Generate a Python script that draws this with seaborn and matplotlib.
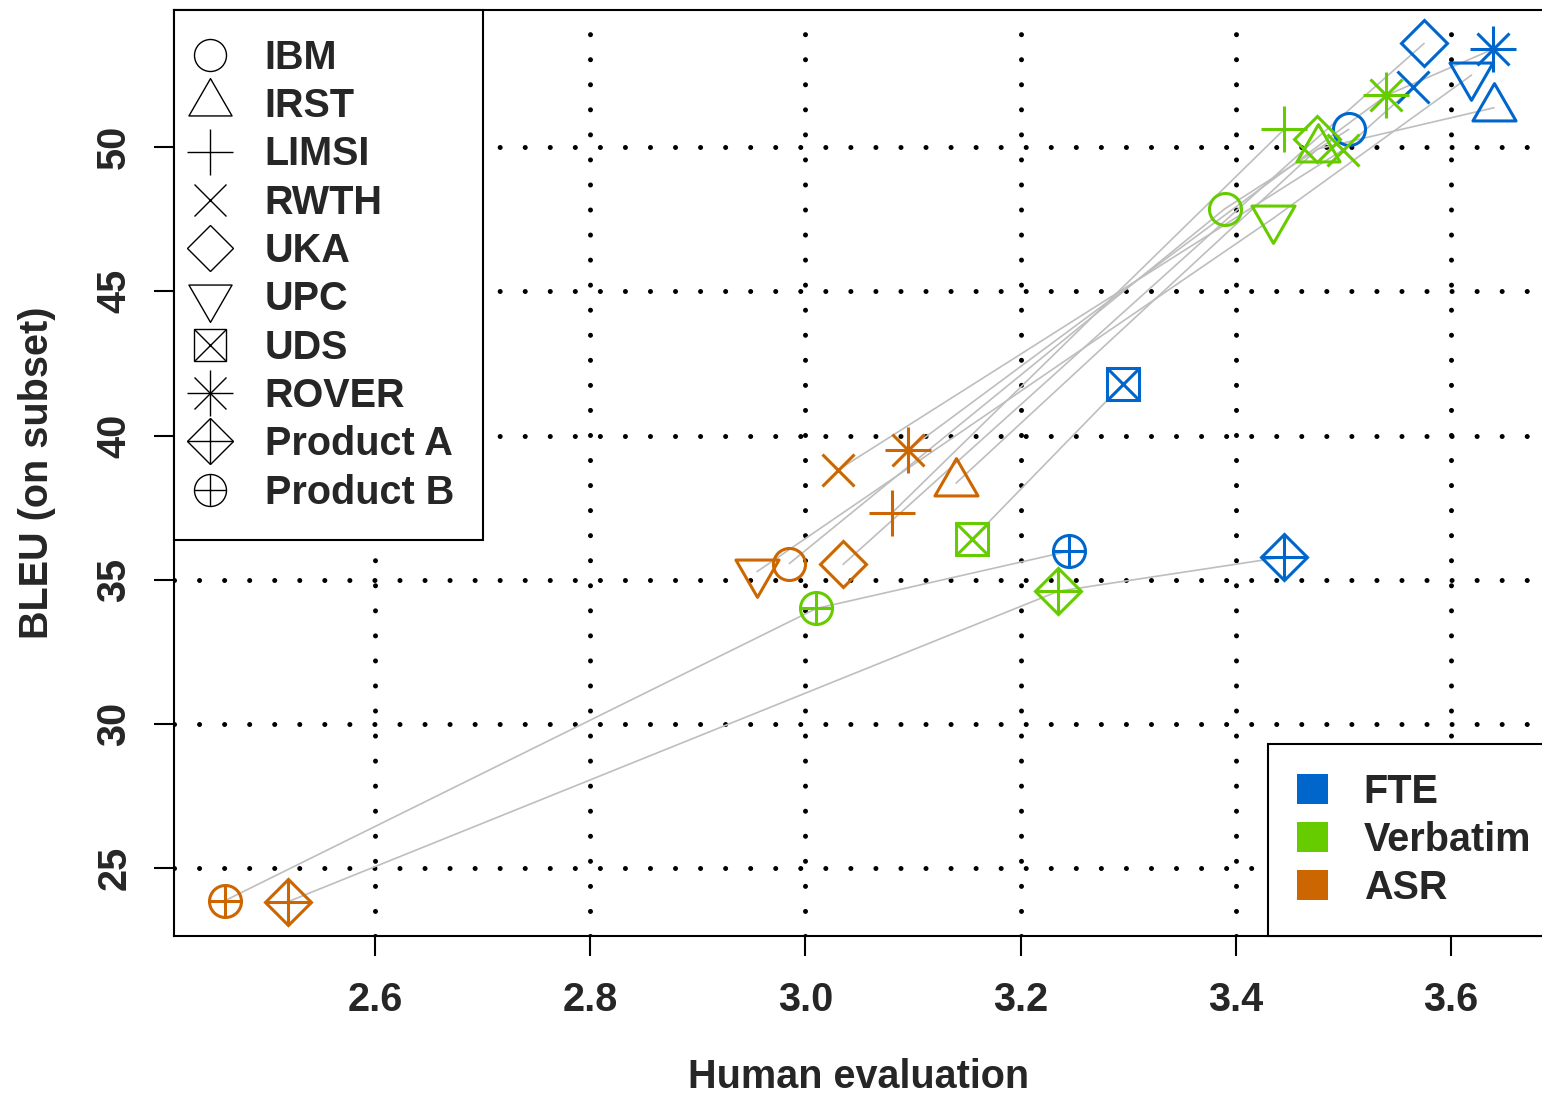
import numpy as np
import pandas as pd
import seaborn as sns
import matplotlib
matplotlib.use("Agg")
import matplotlib.pyplot as plt
from matplotlib.lines import Line2D
from matplotlib.patches import Patch
from matplotlib.path import Path
from matplotlib.legend_handler import HandlerTuple

# values (nan = not shown)
systems = ["IBM", "IRST", "LIMSI", "RWTH", "UKA", "UPC", "UDS", "ROVER", "Product A", "Product B"]
conditions = ["FTE", "Verbatim", "ASR"]

fte_human = [3.505, 3.640, np.nan, 3.565, 3.575, 3.619, 3.295, 3.639, 3.445, 3.245]
fte_bleu = [50.62, 51.37, np.nan, 52.09, 53.60, 52.50, 41.78, 53.40, 35.79, 35.99]
verb_human = [3.390, 3.476, 3.445, 3.500, 3.475, 3.435, 3.155, 3.540, 3.235, 3.010]
verb_bleu = [47.87, 49.94, 50.62, 49.92, 50.30, 47.54, 36.41, 51.80, 34.60, 34.00]
asr_human = [2.985, 3.140, 3.080, 3.030, 3.035, 2.955, np.nan, 3.095, 2.519, 2.460]
asr_bleu = [35.56, 38.35, 37.30, 38.80, 35.53, 35.28, np.nan, 39.49, 23.83, 23.86]

colors = {"FTE": "#0066CC", "Verbatim": "#66CC00", "ASR": "#CC6600"}

x_ticks = [2.6, 2.8, 3.0, 3.2, 3.4, 3.6]
y_ticks = [25, 30, 35, 40, 45, 50]

df = pd.DataFrame({
    "system": systems * 3,
    "condition": ["FTE"] * 10 + ["Verbatim"] * 10 + ["ASR"] * 10,
    "human": fte_human + verb_human + asr_human,
    "bleu": fte_bleu + verb_bleu + asr_bleu,
})

# R style markers, R = marker radius in points
R = 16 * 0.72
tri_up = Path([(0, 1.555), (1.347, -0.778), (-1.347, -0.778), (0, 1.555)],
              [Path.MOVETO, Path.LINETO, Path.LINETO, Path.CLOSEPOLY])
tri_down = Path([(0, -1.555), (1.347, 0.778), (-1.347, 0.778), (0, -1.555)],
                [Path.MOVETO, Path.LINETO, Path.LINETO, Path.CLOSEPOLY])
markers = {
    "IBM": [("o", 2 * R)],
    "IRST": [(tri_up, 3.11 * R)],
    "LIMSI": [("+", 2.83 * R)],
    "RWTH": [("x", 2 * R)],
    "UKA": [("D", 2 * R)],
    "UPC": [(tri_down, 3.11 * R)],
    "UDS": [("s", 2 * R), ("x", 2 * R)],
    "ROVER": [("x", 2 * R), ("+", 2.83 * R)],
    "Product A": [("D", 2 * R), ("+", 2.83 * R)],
    "Product B": [("o", 2 * R), ("+", 2 * R)],
}

FS = 28.5

sns.set_style("white")
plt.rcParams["font.family"] = ["Liberation Sans", "DejaVu Sans"]
plt.rcParams["font.weight"] = "bold"
plt.rcParams["axes.labelweight"] = "bold"

fig = plt.figure(figsize=(15.42, 10.96), dpi=100)
ax = fig.add_axes([174 / 1542, (1096 - 936) / 1096, 1369.5 / 1542, 926 / 1096])

# gray connectors FTE -> Verbatim -> ASR
sns.lineplot(data=df, x="human", y="bleu", units="system", estimator=None, sort=False,
             color="#BEBEBE", lw=1.2, ax=ax, zorder=2)

for cond in conditions:
    sub = df[df["condition"] == cond]
    for _, row in sub.iterrows():
        if np.isnan(row["human"]):
            continue
        for m, ms in markers[row["system"]]:
            ax.plot(row["human"], row["bleu"], ls="none", marker=m, ms=ms,
                    mfc="none", mec=colors[cond], mew=2.2, zorder=3)

ax.set_xlim(2.413, 3.686)
ax.set_ylim(22.64, 54.76)
ax.set_xticks(x_ticks)
ax.set_yticks(y_ticks)
ax.set_xticklabels([f"{v:.1f}" for v in x_ticks])
ax.set_yticklabels([str(v) for v in y_ticks], rotation=90, va="center")
ax.tick_params(direction="out", length=14.4, width=1.5, labelsize=FS,
               color="black", bottom=True, left=True)
ax.tick_params(axis="x", pad=18)
ax.tick_params(axis="y", pad=15)
ax.grid(True, color="black", lw=3.6, linestyle=(0, (0.01, 5.0)), dash_capstyle="round")
ax.set_axisbelow(True)
for s in ax.spines.values():
    s.set_color("black")
    s.set_linewidth(1.5)

ax.set_xlabel("Human evaluation", fontsize=FS, fontweight="bold", labelpad=28)
ax.set_ylabel("BLEU (on subset)", fontsize=FS, fontweight="bold", labelpad=28)

# legend of systems (marker shapes)
handles = []
for s in systems:
    handles.append(tuple(Line2D([], [], ls="none", marker=m, ms=ms, mfc="none",
                                mec="black", mew=1.0) for m, ms in markers[s]))
leg1 = ax.legend(handles, systems, handler_map={tuple: HandlerTuple(ndivide=1, pad=0)},
                 loc="upper left", bbox_to_anchor=(0, 1), borderaxespad=0,
                 prop={"weight": "bold", "size": FS},
                 handlelength=0.35, handletextpad=1.21, borderpad=0.73, labelspacing=0.26,
                 frameon=True, fancybox=False, framealpha=1, edgecolor="black")
leg1.get_frame().set_linewidth(1.5)
ax.add_artist(leg1)

# legend of conditions (colours)
patches = [Patch(facecolor=colors[c], edgecolor="none") for c in conditions]
leg2 = ax.legend(patches, conditions, loc="lower left", bbox_to_anchor=(0.799, 0),
                 borderaxespad=0, prop={"weight": "bold", "size": FS},
                 handlelength=0.78, handleheight=0.78, handletextpad=0.9,
                 borderpad=0.73, labelspacing=0.26,
                 frameon=True, fancybox=False, framealpha=1, edgecolor="black")
leg2.get_frame().set_linewidth(1.5)

fig.savefig("out.png", dpi=100, facecolor="white")
